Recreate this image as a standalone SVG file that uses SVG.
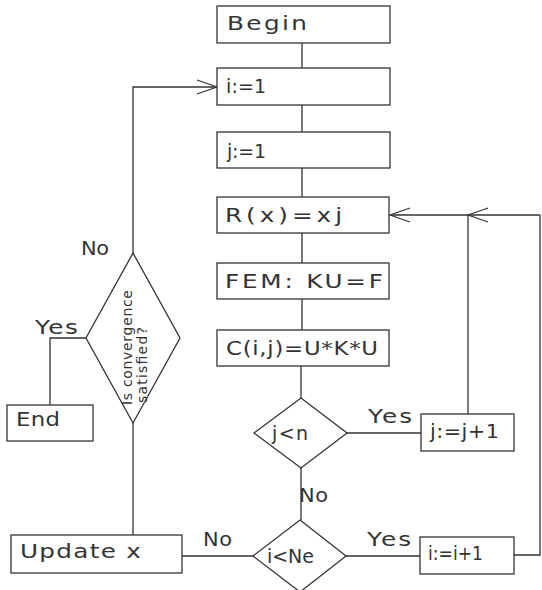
<svg xmlns="http://www.w3.org/2000/svg" width="542" height="590" viewBox="0 0 542 590">
<defs>
<style>
.b{fill:#fff;stroke:#333;stroke-width:1.3}
.c{fill:none;stroke:#333;stroke-width:1.3}
text{font-family:"DejaVu Sans","Liberation Sans",sans-serif;font-size:19px;fill:#333}
.s{font-size:14px}
</style>
<marker id="ah" markerUnits="userSpaceOnUse" markerWidth="22" markerHeight="18" viewBox="0 0 22 18" refX="21" refY="9" orient="auto">
<path d="M1,2 L21,9 L1,16" fill="none" stroke="#333" stroke-width="1.3"/>
</marker>
</defs>
<rect width="542" height="590" fill="#fff"/>
<g id="connectors">
<path class="c" d="M302,43 V68 M302,105 V132 M302,168 V197 M302,233 V263 M302,299 V330 M301,366 V398 M301,468 V520"/>
<path class="c" d="M347,433 H421"/>
<path class="c" d="M468,414 V215"/>
<path class="c" d="M514,555 H540 V215"/>
<path class="c" d="M540,215 H468" marker-end="url(#ah)"/>
<path class="c" d="M468,215 H390" marker-end="url(#ah)"/>
<path class="c" d="M253,556 H182 M346,556 H420"/>
<path class="c" d="M133,535 V423"/>
<path class="c" d="M133,253 V87 H217" marker-end="url(#ah)"/>
<path class="c" d="M86,338 H50 V405"/>
<text transform="matrix(1.1,0,0,1,81,255)" textLength="25.5" lengthAdjust="spacing">No</text>
<text transform="matrix(1.3,0,0,1,35,334)" textLength="33" lengthAdjust="spacing">Yes</text>
<text transform="matrix(1.3,0,0,1,368,423)" textLength="34" lengthAdjust="spacing">Yes</text>
<text transform="matrix(1.1,0,0,1,299,502)" textLength="26.4" lengthAdjust="spacing">No</text>
<text transform="matrix(1.1,0,0,1,203,546)" textLength="26.4" lengthAdjust="spacing">No</text>
<text transform="matrix(1.3,0,0,1,367,546)" textLength="34" lengthAdjust="spacing">Yes</text>
</g>
<g id="begin"><rect class="b" x="217" y="6" width="173" height="37"/><text transform="matrix(1.3,0,0,1,227,30)" textLength="61.5" lengthAdjust="spacing">Begin</text></g>
<g id="i1"><rect class="b" x="217" y="68" width="173" height="37"/><text x="226" y="93" textLength="40" lengthAdjust="spacing">i:=1</text></g>
<g id="j1"><rect class="b" x="217" y="132" width="173" height="36"/><text x="227" y="158" textLength="39" lengthAdjust="spacing">j:=1</text></g>
<g id="rx"><rect class="b" x="217" y="197" width="172" height="36"/><text transform="matrix(1.3,0,0,1,225,222)" textLength="90" lengthAdjust="spacing">R(x)=xj</text></g>
<g id="fem"><rect class="b" x="217" y="263" width="172" height="36"/><text transform="matrix(1.3,0,0,1,225,288)" textLength="121.5" lengthAdjust="spacing">FEM: KU=F</text></g>
<g id="cij"><rect class="b" x="217" y="330" width="172" height="36"/><text transform="matrix(1.2,0,0,1,226,355)" textLength="126.7" lengthAdjust="spacing">C(i,j)=U*K*U</text></g>
<g id="jn"><polygon class="b" points="301,398 347,433 301,468 254,433"/><text x="272" y="440" textLength="36" lengthAdjust="spacing">j&lt;n</text></g>
<g id="jinc"><rect class="b" x="421" y="414" width="93" height="37"/><text transform="matrix(1.1,0,0,1,430,438)" textLength="62.7" lengthAdjust="spacing">j:=j+1</text></g>
<g id="ine"><polygon class="b" points="300,520 346,556 300,592 253,556"/><text x="267" y="563" textLength="47" lengthAdjust="spacing">i&lt;Ne</text></g>
<g id="iinc"><rect class="b" x="420" y="537" width="94" height="37"/><text transform="matrix(0.9,0,0,1,428,560)" textLength="61" lengthAdjust="spacing">i:=i+1</text></g>
<g id="update"><rect class="b" x="11" y="535" width="171" height="38"/><text transform="matrix(1.3,0,0,1,20,558)" textLength="93" lengthAdjust="spacing">Update x</text></g>
<g id="conv"><polygon class="b" points="133,253 180,338 133,423 86,338"/>
<text class="s" transform="translate(132,405) rotate(-90)" textLength="115" lengthAdjust="spacing">Is convergence</text>
<text class="s" transform="translate(147,403) rotate(-90)" textLength="76" lengthAdjust="spacing">satisfied?</text></g>
<g id="end"><rect class="b" x="7" y="405" width="86" height="36"/><text transform="matrix(1.2,0,0,1,16,426)" textLength="36.7" lengthAdjust="spacing">End</text></g>
</svg>
